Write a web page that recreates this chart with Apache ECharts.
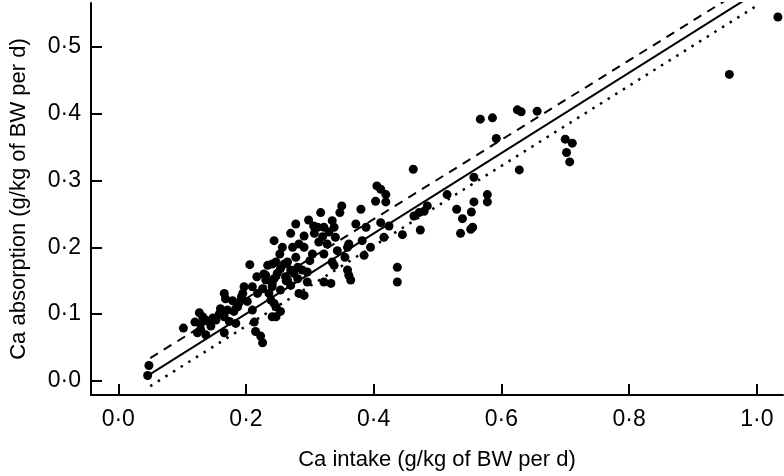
<!DOCTYPE html>
<html>
<head>
<meta charset="utf-8">
<script src="https://cdn.jsdelivr.net/npm/echarts@6/dist/echarts.min.js"></script>
<style>
html,body{margin:0;padding:0;background:#fff;}
#chart{width:784px;height:476px;}
</style>
</head>
<body>
<div id="chart"></div>
<script>
// Ca intake (x) and Ca absorption (y), g/kg of BW per d
var intakeX = [
0.046,0.048,0.102,0.127,0.132,0.137,0.129,0.142,0.124,0.148,0.153,0.129,0.137,
0.166,0.168,0.179,0.171,0.181,0.166,0.174,0.166,0.184,0.197,0.195,0.187,0.206,
0.210,0.202,0.213,0.215,0.223,0.226,0.210,0.218,0.231,0.226,0.234,0.241,0.231,
0.241,0.239,0.241,0.253,0.236,0.247,
0.247,0.254,0.244,0.262,0.241,0.254,0.270,0.283,0.291,0.275,0.288,0.296,0.265,
0.278,0.244,0.254,0.247,0.257,0.273,0.291,0.304,0.322,0.270,0.291,0.278,0.298,
0.317,0.312,0.322,0.307,0.320,0.314,0.338,0.340,0.347,0.350,0.372,0.380,0.388,
0.361,0.382,0.411,0.424,0.445,0.416,0.405,0.411,0.419,0.403,0.419,0.462,0.463,
0.471,0.479,0.484,0.473,0.385,0.359,0.355,0.335,0.359,0.361,0.364,0.322,0.333,
0.437,0.437,0.343,0.335,0.327,0.395,0.244,0.281,0.296,0.270,0.260,0.249,0.265,
0.281,0.338,
0.515,0.557,0.628,0.702,0.707,0.578,0.578,0.557,0.530,0.553,0.539,0.555,0.552,
0.536,0.567,0.586,0.625,0.631,0.656,0.592,0.700,0.711,0.957,1.033,
0.160,0.190,0.228,0.263,0.300,0.145,0.120,0.158,0.193,0.217,0.283,0.306,0.330
];
var absorptionY = [
0.008,0.023,0.079,0.102,0.096,0.091,0.086,0.089,0.072,0.094,0.091,0.077,0.069,
0.131,0.123,0.120,0.106,0.104,0.096,0.089,0.072,0.086,0.141,0.131,0.111,0.174,
0.141,0.119,0.088,0.074,0.067,0.057,0.106,0.131,0.151,0.138,0.173,0.175,0.158,
0.146,0.121,0.096,0.190,0.131,0.111,
0.178,0.168,0.153,0.156,0.141,0.136,0.143,0.131,0.128,0.161,0.166,0.148,0.178,
0.185,0.116,0.104,0.096,0.200,0.200,0.200,0.190,0.190,0.221,0.217,0.235,0.241,
0.252,0.230,0.230,0.221,0.216,0.208,0.230,0.215,0.252,0.262,0.235,0.257,0.230,
0.205,0.210,0.237,0.232,0.219,0.215,0.292,0.287,0.279,0.269,0.268,0.317,0.247,
0.252,0.254,0.262,0.226,0.188,0.200,0.185,0.178,0.166,0.158,0.151,0.148,0.146,
0.170,0.148,0.195,0.240,0.205,0.200,0.210,0.170,0.163,0.166,0.175,0.161,0.151,
0.153,0.173,
0.279,0.305,0.316,0.342,0.328,0.279,0.268,0.268,0.257,0.253,0.243,0.230,0.227,
0.221,0.392,0.394,0.406,0.403,0.404,0.363,0.362,0.356,0.459,0.545,
0.108,0.118,0.160,0.150,0.180,0.082,0.088,0.100,0.126,0.156,0.205,0.232,0.223
];
// Fitted lines: endpoints (x, y)
var solidLineX = [0.05, 1.0];
var solidLineY = [0.010, 0.582];
var dashedLineX = [0.05, 1.0];
var dashedLineY = [0.034, 0.599];
var dottedLineX = [0.05, 1.0];
var dottedLineY = [-0.008, 0.562];
var xTicks = [0, 0.2, 0.4, 0.6, 0.8, 1.0];
var yTicks = [0, 0.1, 0.2, 0.3, 0.4, 0.5];

function pairs(xs, ys){ return xs.map(function(v,i){ return [v, ys[i]]; }); }
function fmt(v){ return Number(v).toFixed(1).replace('.', '\u00B7'); }

var FONT = '"Liberation Sans", Arial, sans-serif';
var chart = echarts.init(document.getElementById('chart'), null, {renderer:'canvas'});
chart.setOption({
  animation: false,
  backgroundColor: '#fff',
  grid: {left: 90, right: 1, top: 3, bottom: 77, containLabel: false},
  xAxis: {
    type: 'value', min: -0.0427, max: 1.041,
    name: 'Ca intake (g/kg of BW per d)', nameLocation: 'middle', nameGap: 54,
    nameTextStyle: {color: '#000', fontSize: 22, fontFamily: FONT},
    axisLine: {onZero: false, lineStyle: {color: '#000', width: 2}},
    axisTick: {inside: true, length: 11, lineStyle: {color: '#000', width: 2}, customValues: xTicks},
    axisLabel: {color: '#000', fontSize: 23, fontFamily: FONT, margin: 13, customValues: xTicks, formatter: fmt},
    splitLine: {show: false}
  },
  yAxis: {
    type: 'value', min: -0.0212, max: 0.566,
    name: 'Ca absorption (g/kg of BW per d)', nameLocation: 'middle', nameGap: 61, nameRotate: 90,
    nameTextStyle: {color: '#000', fontSize: 22, fontFamily: FONT},
    axisLine: {onZero: false, lineStyle: {color: '#000', width: 2}},
    axisTick: {inside: true, length: 11, lineStyle: {color: '#000', width: 2}, customValues: yTicks},
    axisLabel: {color: '#000', fontSize: 23, fontFamily: FONT, margin: 10, customValues: yTicks, formatter: fmt},
    splitLine: {show: false}
  },
  series: [
    {type: 'scatter', data: pairs(intakeX, absorptionY), symbol: 'circle', symbolSize: 9,
     itemStyle: {color: '#000', opacity: 1}, z: 3},
    {type: 'line', data: pairs(solidLineX, solidLineY), symbol: 'none', clip: true,
     lineStyle: {color: '#000', width: 2, type: 'solid'}},
    {type: 'line', data: pairs(dashedLineX, dashedLineY), symbol: 'none', clip: true,
     lineStyle: {color: '#000', width: 2, type: [9, 7]}},
    {type: 'line', data: pairs(dottedLineX, dottedLineY), symbol: 'none', clip: true,
     lineStyle: {color: '#000', width: 2.5, type: [2.5, 6.5]}}
  ]
});
</script>
</body>
</html>
